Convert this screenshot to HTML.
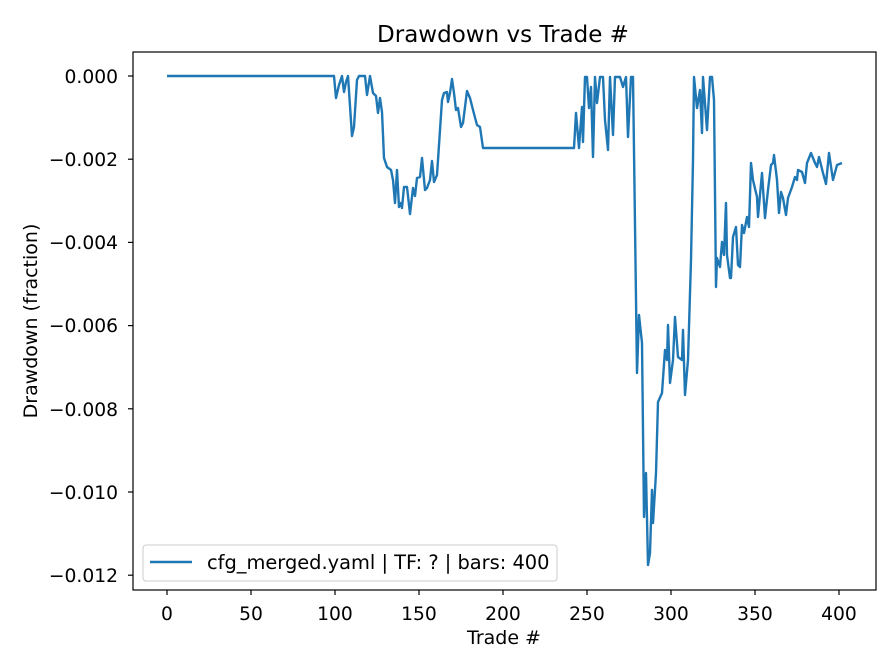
<!DOCTYPE html>
<html><head><style>body{margin:0;background:#fff}svg{display:block}text{font-family:"DejaVu Sans","Liberation Sans",sans-serif;fill:#000}</style></head>
<body>
<svg width="896" height="672" viewBox="0 0 896 672" xmlns="http://www.w3.org/2000/svg">
<rect width="896" height="672" fill="#fff"/>
<text x="503" y="42" font-size="23" text-anchor="middle">Drawdown vs Trade #</text>
<polyline fill="none" stroke="#1f77b4" stroke-width="2.4" stroke-linejoin="round" points="167,76 334,76 336,98 339,85 342,76 344,92 346,82 348,76 352,136 354,127 357,80 359,76 365,76 367,95 370,76 373,93 376,96 378,113 380,98 382,112 384,158 387,167 391,170 393,180 395,203 397,170 399,207 401,203 402,208 404,187 407,187 410,214 413,188 415,196 417,178 420,177 422,158 425,190 427,188 430,180 432,161 434,182 437,175 439,145 442,100 444,93 447,92 448,102 450,93 452,79 454,93 456,110 458,108 461,127 463,123 467,91 470,98 473,110 477,125 480,127 483,148 487,148 574,148 576,113 579,148 582,107 583,142 585,77 587,77 589,108 591,87 593,157 595,77 597,103 600,77 603,77 605,120 608,150 610,77 613,135 615,77 620,77 623,87 626,77 628,137 631,77 633,77 637,373 639,315 642,343 644,517 646,473 648,565 650,553 652,490 653,523 656,473 658,402 662,393 665,350 667,360 668,325 670,383 673,360 675,317 678,357 682,360 683,330 685,395 688,360 691,260 693,160 694,77 697,108 700,90 702,133 703,77 707,130 710,77 712,77 714,100 716,287 717,258 720,267 722,242 724,255 726,203 727,255 730,278 731,278 733,237 736,227 738,265 740,267 742,225 744,233 747,217 749,227 751,163 753,180 757,197 758,217 762,173 765,218 768,190 771,165 773,163 774,155 777,180 779,213 781,192 783,198 786,215 788,198 792,187 795,177 797,180 798,170 802,172 805,183 807,163 811,153 815,163 817,167 819,157 823,173 826,184 829,153 833,180 837,165 842,163"/>
<rect x="133" y="52" width="743" height="538" fill="none" stroke="#000" stroke-width="1.2"/>
<g stroke="#000" stroke-width="1.2">
<line x1="167" y1="590" x2="167" y2="595"/><line x1="251" y1="590" x2="251" y2="595"/><line x1="335" y1="590" x2="335" y2="595"/><line x1="419" y1="590" x2="419" y2="595"/><line x1="503" y1="590" x2="503" y2="595"/><line x1="587" y1="590" x2="587" y2="595"/><line x1="671" y1="590" x2="671" y2="595"/><line x1="755" y1="590" x2="755" y2="595"/><line x1="839" y1="590" x2="839" y2="595"/>
<line x1="128" y1="76" x2="133" y2="76"/><line x1="128" y1="159.2" x2="133" y2="159.2"/><line x1="128" y1="242.4" x2="133" y2="242.4"/><line x1="128" y1="325.6" x2="133" y2="325.6"/><line x1="128" y1="408.8" x2="133" y2="408.8"/><line x1="128" y1="492" x2="133" y2="492"/><line x1="128" y1="575.2" x2="133" y2="575.2"/>
</g>
<g font-size="18.7" text-anchor="middle">
<text x="167" y="620">0</text><text x="251" y="620">50</text><text x="335" y="620">100</text><text x="419" y="620">150</text><text x="503" y="620">200</text><text x="587" y="620">250</text><text x="671" y="620">300</text><text x="755" y="620">350</text><text x="839" y="620">400</text>
</g>
<g font-size="18.7" text-anchor="end">
<text x="118" y="83">0.000</text><text x="118" y="166">−0.002</text><text x="118" y="249">−0.004</text><text x="118" y="332">−0.006</text><text x="118" y="416">−0.008</text><text x="118" y="499">−0.010</text><text x="118" y="582">−0.012</text>
</g>
<text x="504" y="644" font-size="19" text-anchor="middle">Trade #</text>
<text transform="translate(37,321) rotate(-90)" font-size="19" text-anchor="middle">Drawdown (fraction)</text>
<rect x="143" y="545" width="414" height="36" rx="3" fill="#fff" stroke="#ccc" stroke-width="1"/>
<line x1="150" y1="562" x2="192" y2="562" stroke="#1f77b4" stroke-width="2.4"/>
<text x="207" y="569" font-size="19.4">cfg_merged.yaml | TF: ? | bars: 400</text>
</svg>
</body></html>
